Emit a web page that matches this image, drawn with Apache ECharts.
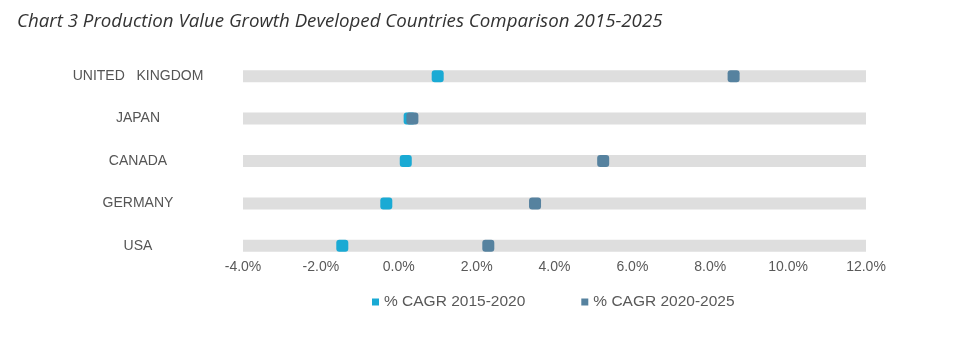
<!DOCTYPE html>
<html><head><meta charset="utf-8">
<script src="https://cdn.jsdelivr.net/npm/echarts@6/dist/echarts.min.js"></script>
<style>html,body{margin:0;padding:0;background:#fff}#c{width:969px;height:354px}</style>
</head><body><div id="c"></div>
<script>
const categories = ['USA', 'GERMANY', 'CANADA', 'JAPAN', 'UNITED   KINGDOM'];
const cagr2015_2020 = [-1.45, -0.32, 0.18, 0.28, 1.0];
const cagr2020_2025 = [2.3, 3.5, 5.25, 0.35, 8.6];
const trackMin = [-4, -4, -4, -4, -4];
const trackMax = [12, 12, 12, 12, 12];
const seriesNames = ['% CAGR 2015-2020', '% CAGR 2020-2025'];

const trackData = categories.map((c, i) => [trackMin[i], trackMax[i], i]);

const chart = echarts.init(document.getElementById('c'));
chart.setOption({
  animation: false,
  title: {
    text: 'Chart 3 Production Value Growth Developed Countries Comparison 2015-2025',
    left: 12, top: 7,
    textStyle: {fontFamily: 'Open Sans', fontStyle: 'italic', fontWeight: 'normal', fontSize: 18.7, color: '#333'}
  },
  legend: {
    data: seriesNames,
    left: 367, top: 289,
    icon: 'rect', itemWidth: 7, itemHeight: 7, itemGap: 56,
    textStyle: {fontFamily: 'Liberation Sans', fontSize: 15.5, color: '#595959'}
  },
  grid: {left: 243, right: 103, top: 55, bottom: 87},
  xAxis: {
    type: 'value', min: -4, max: 12, interval: 2,
    splitLine: {show: false}, axisLine: {show: false}, axisTick: {show: false},
    axisLabel: {margin: -7, fontFamily: 'Liberation Sans', fontSize: 14, color: '#595959',
      formatter: v => v.toFixed(1) + '%'}
  },
  yAxis: {
    type: 'category', data: categories,
    axisLine: {show: false}, axisTick: {show: false},
    axisLabel: {margin: 105, align: 'center', fontFamily: 'Liberation Sans', fontSize: 14, color: '#555'}
  },
  series: [
    {type: 'custom', data: trackData, silent: true, z: 1,
      encode: {x: [0, 1], y: 2},
      renderItem: (params, api) => {
        const a = api.coord([api.value(0), api.value(2)]);
        const b = api.coord([api.value(1), api.value(2)]);
        return {type: 'rect', shape: {x: a[0], y: a[1] - 6, width: b[0] - a[0], height: 12},
          style: {fill: '#dedede'}};
      }},
    {name: seriesNames[0], type: 'scatter', data: cagr2015_2020, symbol: 'roundRect', symbolSize: 12,
      itemStyle: {color: '#1aaad4', opacity: 1}, z: 3},
    {name: seriesNames[1], type: 'scatter', data: cagr2020_2025, symbol: 'roundRect', symbolSize: 12,
      itemStyle: {color: '#56829f', opacity: 1}, z: 4}
  ]
});
</script></body></html>
